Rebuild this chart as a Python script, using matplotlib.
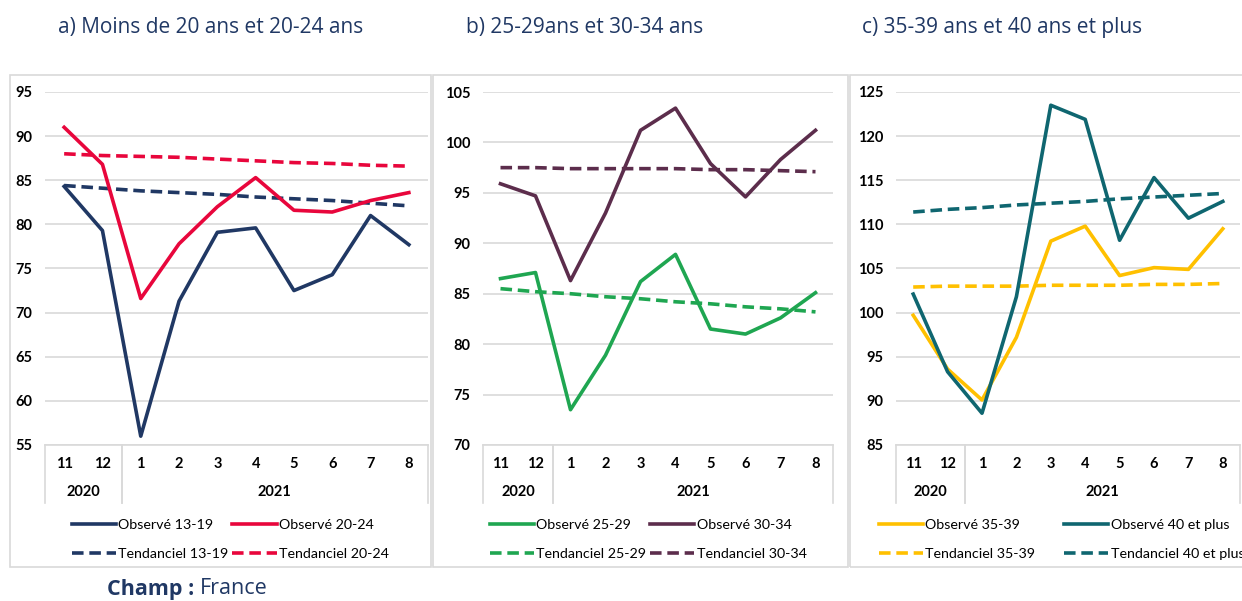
import matplotlib.pyplot as plt
from matplotlib.patches import Rectangle
import matplotlib.transforms as mtransforms

plt.rcParams['font.family'] = ['Lato', 'DejaVu Sans']

W, H = 1242, 601

# categories
months = ["11", "12", "1", "2", "3", "4", "5", "6", "7", "8"]
years = [("2020", -0.5, 1.5), ("2021", 1.5, 9.5)]

# panel a
obs_13_19 = [84.3, 79.3, 56.0, 71.3, 79.1, 79.6, 72.5, 74.3, 81.0, 77.7]
obs_20_24 = [91.0, 86.8, 71.6, 77.8, 82.0, 85.3, 81.6, 81.4, 82.7, 83.6]
tend_13_19 = [84.4, 84.1, 83.8, 83.6, 83.4, 83.1, 82.9, 82.7, 82.4, 82.1]
tend_20_24 = [88.0, 87.8, 87.7, 87.6, 87.4, 87.2, 87.0, 86.9, 86.7, 86.6]

# panel b
obs_25_29 = [86.5, 87.1, 73.5, 78.9, 86.2, 88.9, 81.5, 81.0, 82.6, 85.1]
obs_30_34 = [95.9, 94.7, 86.3, 93.0, 101.2, 103.4, 97.9, 94.6, 98.3, 101.2]
tend_25_29 = [85.5, 85.2, 85.0, 84.7, 84.5, 84.2, 84.0, 83.7, 83.5, 83.2]
tend_30_34 = [97.5, 97.5, 97.4, 97.4, 97.4, 97.4, 97.3, 97.3, 97.2, 97.1]

# panel c
obs_35_39 = [99.7, 93.6, 90.1, 97.2, 108.1, 109.8, 104.2, 105.1, 104.9, 109.5]
obs_40 = [102.1, 93.3, 88.6, 101.8, 123.5, 121.9, 108.2, 115.3, 110.7, 112.6]
tend_35_39 = [102.9, 103.0, 103.0, 103.0, 103.1, 103.1, 103.1, 103.2, 103.2, 103.3]
tend_40 = [111.4, 111.7, 111.9, 112.2, 112.4, 112.6, 112.9, 113.1, 113.3, 113.5]

NAVY = "#203864"
GRID = "#d9d9d9"

panels = [
    dict(title="a) Moins de 20 ans et 20-24 ans", tx=58, box=(10, 431), ax=(45, 428),
         ylim=(55, 95), series=[
             ("Observé 13-19", obs_13_19, "#203864", "-"),
             ("Tendanciel 13-19", tend_13_19, "#203864", "--"),
             ("Observé 20-24", obs_20_24, "#e8063c", "-"),
             ("Tendanciel 20-24", tend_20_24, "#e8063c", "--")], lx=72, cs=0.25),
    dict(title="b) 25-29ans et 30-34 ans", tx=466, box=(433, 848), ax=(483, 833),
         ylim=(70, 105), series=[
             ("Observé 25-29", obs_25_29, "#1fa651", "-"),
             ("Tendanciel 25-29", tend_25_29, "#1fa651", "--"),
             ("Observé 30-34", obs_30_34, "#5c2d4c", "-"),
             ("Tendanciel 30-34", tend_30_34, "#5c2d4c", "--")], lx=490, cs=0.25),
    dict(title="c) 35-39 ans et 40 ans et plus", tx=862, box=(850, 1250), ax=(896, 1240),
         ylim=(85, 125), series=[
             ("Observé 35-39", obs_35_39, "#ffc000", "-"),
             ("Tendanciel 35-39", tend_35_39, "#ffc000", "--"),
             ("Observé 40 et plus", obs_40, "#0f6670", "-"),
             ("Tendanciel 40 et plus", tend_40, "#0f6670", "--")], lx=879, cs=2.0),
]

fig = plt.figure(figsize=(W / 100, H / 100), dpi=100)

AX_TOP, AX_BOT = 92, 445
for p in panels:
    bx0, bx1 = p["box"]
    fig.patches.append(Rectangle((bx0 / W, 1 - 567 / H), (bx1 - bx0) / W, (567 - 75) / H,
                                 transform=fig.transFigure, fill=False,
                                 edgecolor=GRID, linewidth=1.2))
    fig.text(p["tx"] / W, 1 - 28 / H, p["title"], fontsize=15, color=NAVY,
             ha="left", va="center", family=["Open Sans", "DejaVu Sans"])

    x0, x1 = p["ax"]
    ax = fig.add_axes([x0 / W, 1 - AX_BOT / H, (x1 - x0) / W, (AX_BOT - AX_TOP) / H])
    handles = []
    for label, vals, color, ls in p["series"]:
        if ls == "--":
            ln, = ax.plot(range(len(months)), vals, color=color, lw=2.6,
                          dashes=(3.2, 1.6), label=label, solid_capstyle="butt")
        else:
            ln, = ax.plot(range(len(months)), vals, color=color, lw=2.6, label=label)
        handles.append(ln)

    lo, hi = p["ylim"]
    ax.set_ylim(lo, hi)
    ax.set_xlim(-0.5, len(months) - 0.5)
    ax.set_yticks(range(lo, hi + 1, 5))
    ax.yaxis.grid(True, color=GRID, lw=1.2)
    ax.set_axisbelow(True)
    for s in ["left", "right", "top"]:
        ax.spines[s].set_visible(False)
    ax.spines["bottom"].set_color(GRID)
    ax.spines["bottom"].set_linewidth(1.2)
    ax.tick_params(axis="y", length=0, pad=9, labelsize=10.5)
    ax.tick_params(axis="x", length=0, pad=9, labelsize=10.5)
    for t in ax.get_yticklabels():
        t.set_fontweight("bold")
    ax.set_xticks(range(len(months)))
    ax.set_xticklabels(months, fontweight="bold")

    # year groups under the month labels
    trans = mtransforms.blended_transform_factory(ax.transData, ax.transAxes)
    hpx = AX_BOT - AX_TOP
    for yr, a, b in years:
        for xb in (a, b):
            ax.plot([xb, xb], [0, -58 / hpx], transform=trans, color=GRID,
                    lw=1.2, clip_on=False)
        ax.text((a + b) / 2, -47 / hpx, yr, transform=trans, ha="center",
                va="center", fontsize=10.5, fontweight="bold")

    fig.legend(handles=handles, loc="upper left",
               bbox_to_anchor=(p["lx"] / W, 1 - 519 / H), ncol=2, frameon=False,
               fontsize=10.3, handlelength=3.1, handletextpad=0.15,
               columnspacing=p["cs"], labelspacing=1.2, borderaxespad=0,
               borderpad=0)

champ = fig.text(107 / W, 1 - 589 / H, "Champ : ", fontsize=15.5, color=NAVY,
                 fontweight="bold", ha="left", va="center",
                 family=["Open Sans", "DejaVu Sans"])
r = fig.canvas.get_renderer()
bb = champ.get_window_extent(renderer=r)
fig.text(bb.x1 / W, 1 - 589 / H, "France", fontsize=15.5, color=NAVY,
         ha="left", va="center", family=["Open Sans", "DejaVu Sans"])

fig.savefig("out.png", dpi=100)
